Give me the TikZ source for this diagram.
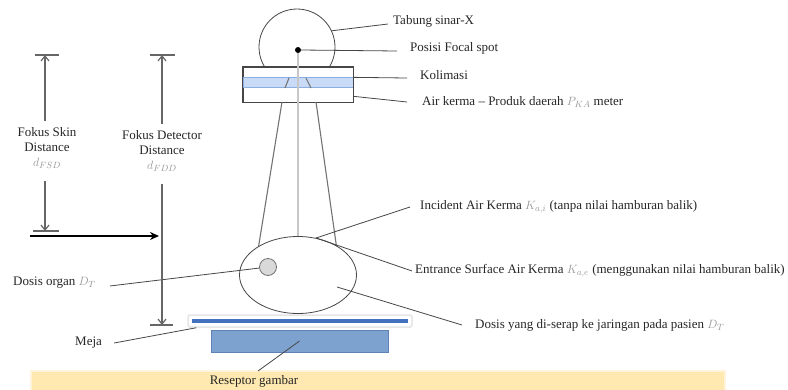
\documentclass[tikz,border=0pt]{standalone}
\usepackage{fontspec}
\setmainfont{Liberation Serif}
\usetikzlibrary{arrows.meta,shapes.geometric,calc}

\definecolor{linegray}{RGB}{70,70,70}
\definecolor{beamblue}{RGB}{200,218,245}
\definecolor{beamedge}{RGB}{140,175,225}
\definecolor{tableblue}{RGB}{68,114,190}
\definecolor{receptorblue}{RGB}{125,162,208}
\definecolor{receptoredge}{RGB}{95,130,180}
\definecolor{bandyellow}{RGB}{255,233,176}
\definecolor{bandedge}{RGB}{255,243,220}
\definecolor{symgray}{RGB}{150,150,150}

% quantity symbols are printed in grey
\newcommand{\symq}[1]{\textcolor{symgray}{$#1$}}

\begin{document}
\begin{tikzpicture}[x=1pt,y=-1pt,
  lbl/.style={inner sep=0pt, text=black!85, font=\fontsize{13}{15}\selectfont},
  leader/.style={draw=linegray, line width=0.8pt},
  outline/.style={draw=linegray, line width=0.8pt},
  beam/.style={draw=black!55, line width=1.1pt},
  dimline/.style={draw=black!60, line width=1.2pt},
  dimarrow/.style={dimline, -{Straight Barb[length=5pt,width=8pt]}},
]
\useasboundingbox (0,0) rectangle (788,389);

% ---- X-ray tube and collimator ----
\node[circle, outline, fill=white, minimum size=76pt, inner sep=0pt] (tube) at (297,47) {};
\node[rectangle, outline, fill=white, minimum width=110pt, minimum height=35pt, inner sep=0pt] (colli) at (298,84.5) {};
\node[rectangle, draw=beamedge, fill=beamblue, minimum width=110pt, minimum height=10pt, inner sep=0pt, anchor=north] (filter) at (298,77) {};
\draw[outline] (colli.north west) rectangle (colli.south east);

% ---- beam edges ----
\draw[beam] (289,78) -- (285,88);
\draw[beam] (306,78) -- (311,88);
\draw[beam] (282,102) -- (258,250);
\draw[beam] (316,102) -- (337,250);

% ---- patient ----
\node[ellipse, outline, fill=white, minimum width=117pt, minimum height=77pt, inner sep=0pt] (patient) at (298,275) {};
\node[circle, draw=black!55, fill=black!15, line width=0.8pt, minimum size=17pt, inner sep=0pt] (organ) at (268,267) {};
\coordinate (tissue) at (337,287);

% ---- focal spot and central ray ----
\node[circle, fill=black, minimum size=6pt, inner sep=0pt] (focal) at (298,50) {};
\draw[draw=black!55, line width=0.6pt, double=black!22, double distance=1.6pt] (focal.south) -- (patient.north);

% ---- table and image receptor ----
\node[rectangle, rounded corners=2pt, fill=white, draw=black!10, line width=1.5pt, minimum width=224pt, minimum height=12pt, inner sep=0pt] (table) at (300,321) {};
\node[rectangle, fill=tableblue, minimum width=216pt, minimum height=4.5pt, inner sep=0pt] (tabletop) at (300,321) {};
\node[rectangle, fill=receptorblue, draw=receptoredge, line width=0.8pt, minimum width=177pt, minimum height=22pt, inner sep=0pt] (receptor) at (299.5,341) {};
\node[rectangle, fill=bandyellow, draw=bandedge, line width=1.5pt, minimum width=694pt, minimum height=24pt, inner sep=0pt, anchor=north west] (band) at (30,370) {};
\node[lbl] (rg) at (254,381) {Reseptor gambar};
\coordinate (rgtip) at (258,371);
\draw[leader] (receptor.center) -- (rgtip);

% ---- labels on the right ----
\node[lbl, anchor=west] (tubelbl) at (393,21) {Tabung sinar-X};
\node[lbl, anchor=west] (focallbl) at (410,48) {Posisi Focal spot};
\node[lbl, anchor=west] (kolilbl) at (420,75) {Kolimasi};
\node[lbl, anchor=west] (airlbl) at (422,102) {Air kerma -- Produk daerah \symq{P_{KA}} meter};
\node[lbl, anchor=west] (inclbl) at (420,207) {Incident Air Kerma \symq{K_{a,i}} (tanpa nilai hamburan balik)};
\node[lbl, anchor=west] (entlbl) at (415,271) {Entrance Surface Air Kerma \symq{K_{a,e}} (menggunakan nilai hamburan balik)};
\node[lbl, anchor=west] (dosislbl) at (475,325) {Dosis yang di-serap ke jaringan pada pasien \symq{D_T}};

\draw[leader] (tube.25) -- ([xshift=-5pt,yshift=-3pt]tubelbl.west);
\draw[leader] (focal.east) -- ([xshift=-13pt,yshift=-3pt]focallbl.west);
\draw[leader] ($(colli.north east)!0.3!(colli.south east)$) -- ([xshift=-13pt,yshift=-3pt]kolilbl.west);
\draw[leader] ($(colli.north east)!0.83!(colli.south east)$) -- ([xshift=-15pt]airlbl.west);
\draw[leader] (patient.64) -- ([xshift=-10pt]inclbl.west);
\draw[leader] (patient.64) -- ([xshift=-3pt]entlbl.west);
\draw[leader] (tissue) -- ([xshift=-13pt]dosislbl.west);

% ---- labels on the left ----
\node[lbl, anchor=west] (organlbl) at (13,283) {Dosis organ \symq{D_T}};
\draw[leader] (organ) -- ([xshift=14pt,yshift=-3pt]organlbl.east);
\node[lbl, anchor=west] (mejalbl) at (75,343) {Meja};
\draw[leader] ([xshift=12pt]mejalbl.east) -- ([xshift=9pt]table.south west);

% ---- focus-skin distance ----
\coordinate (fsdtop) at (45,55);
\coordinate (fsdbot) at (45,231);
\node[lbl, align=center, font=\fontsize{13}{15}\selectfont] (fsd) at (47,148) {Fokus Skin\\Distance\\\symq{d_{FSD}}};
\draw[dimarrow] ($(fsdtop|-fsd.north)+(0,-6)$) -- (fsdtop);
\draw[dimarrow] ($(fsdbot|-fsd.south)+(0,12)$) -- (fsdbot);
\draw[dimline] ([xshift=-10pt]fsdtop) -- ([xshift=14pt]fsdtop);
\draw[dimline] ([xshift=-12pt]fsdbot) -- ([xshift=14pt]fsdbot);

% ---- focus-detector distance ----
\coordinate (fddtop) at (162,55);
\coordinate (fddbot) at (162,325);
\node[lbl, align=center, font=\fontsize{13}{15}\selectfont] (fdd) at (162,151) {Fokus Detector\\Distance\\\symq{d_{FDD}}};
\draw[dimarrow] ($(fddtop|-fdd.north)+(0,-6)$) -- (fddtop);
\draw[dimarrow] ($(fddbot|-fdd.south)+(0,12)$) -- (fddbot);
\draw[dimline] ([xshift=-12pt]fddtop) -- ([xshift=13pt]fddtop);
\draw[dimline] ([xshift=-12pt]fddbot) -- ([xshift=11pt]fddbot);

% ---- patient entrance level ----
\coordinate (hstart) at (30,236);
\coordinate (hend) at (159,236);
\draw[line width=2pt, -{Stealth[length=9pt,width=8pt]}] (hstart) -- (hend);

\end{tikzpicture}
\end{document}
